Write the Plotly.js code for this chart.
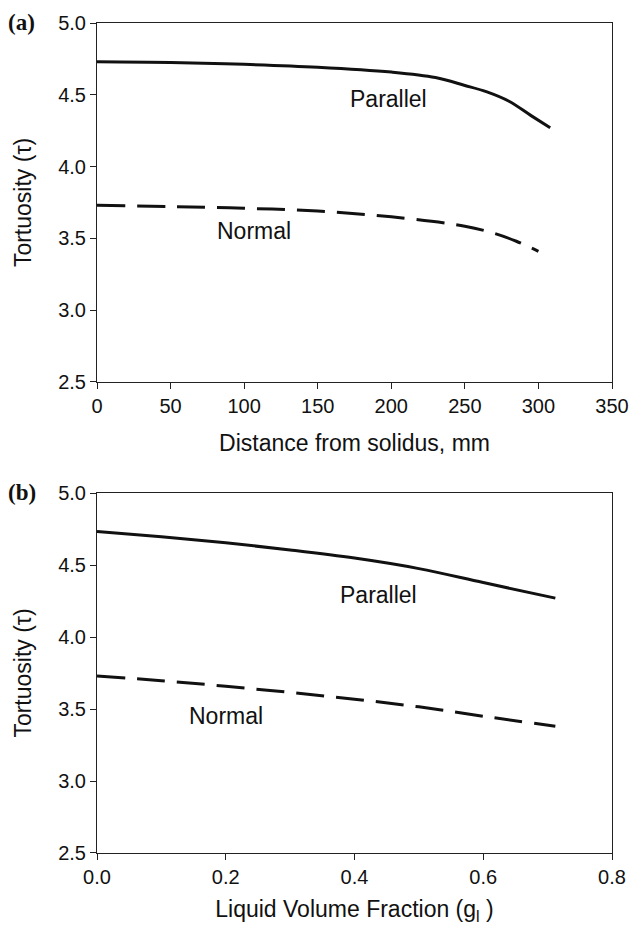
<!DOCTYPE html>
<html>
<head>
<meta charset="utf-8">
<script src="https://cdn.plot.ly/plotly-3.0.1.min.js"></script>
<style>html,body{margin:0;padding:0;background:#fff;}#chart{width:630px;height:925px;}</style>
</head>
<body>
<div id="chart"></div>
<script>
// Panel (a): tortuosity vs distance from solidus (mm)
var distParallel = [0, 50, 100, 150, 200, 230, 250, 265, 280, 295, 308];
var tauParallelA = [4.73, 4.725, 4.712, 4.692, 4.658, 4.62, 4.565, 4.52, 4.455, 4.355, 4.27];
var distNormal = [0, 50, 100, 150, 200, 250, 270, 285, 300];
var tauNormalA = [3.73, 3.722, 3.71, 3.69, 3.65, 3.585, 3.535, 3.48, 3.41];

// Panel (b): tortuosity vs liquid volume fraction
var glParallel = [0, 0.1, 0.2, 0.3, 0.4, 0.5, 0.6, 0.712];
var tauParallelB = [4.733, 4.697, 4.655, 4.605, 4.548, 4.475, 4.378, 4.27];
var glNormal = [0, 0.1, 0.2, 0.3, 0.4, 0.5, 0.6, 0.712];
var tauNormalB = [3.73, 3.697, 3.658, 3.615, 3.568, 3.515, 3.45, 3.38];

var xTicksA = [0, 50, 100, 150, 200, 250, 300, 350];
var xTicksB = [0.0, 0.2, 0.4, 0.6, 0.8];
var yTicks = [2.5, 3.0, 3.5, 4.0, 4.5, 5.0];

var FONT = 'Liberation Sans, Arial, Helvetica, sans-serif';

var traces = [
  {x: distParallel, y: tauParallelA, xaxis: 'x', yaxis: 'y', mode: 'lines',
   line: {color: '#111', width: 3, shape: 'spline', smoothing: 1}},
  {x: distNormal, y: tauNormalA, xaxis: 'x', yaxis: 'y', mode: 'lines',
   line: {color: '#111', width: 3, dash: '28px,12px', shape: 'spline', smoothing: 1}},
  {x: glParallel, y: tauParallelB, xaxis: 'x2', yaxis: 'y2', mode: 'lines',
   line: {color: '#111', width: 3, shape: 'spline', smoothing: 1}},
  {x: glNormal, y: tauNormalB, xaxis: 'x2', yaxis: 'y2', mode: 'lines',
   line: {color: '#111', width: 3, dash: '28px,12px', shape: 'spline', smoothing: 1}}
];

function yax(domain, anchor) {
  return {
    domain: domain, anchor: anchor, range: [2.5, 5.0],
    tickvals: yTicks, ticktext: yTicks.map(function(v){return v.toFixed(1);}),
    ticks: 'outside', ticklen: 6, tickcolor: '#222', tickwidth: 1,
    showline: true, linecolor: '#222', linewidth: 1, mirror: true,
    showgrid: false, zeroline: false,
    tickfont: {family: FONT, size: 20, color: '#111'},
    title: {text: 'Tortuosity (τ)', font: {family: FONT, size: 23, color: '#111'}, standoff: 20},
    automargin: false
  };
}
function xax(range, vals, text, title, anchor) {
  return {
    anchor: anchor, range: range, tickvals: vals, ticktext: text,
    ticks: 'outside', ticklen: 6, tickcolor: '#222', tickwidth: 1,
    showline: true, linecolor: '#222', linewidth: 1, mirror: true,
    showgrid: false, zeroline: false,
    tickfont: {family: FONT, size: 20, color: '#111'},
    title: {text: title, font: {family: FONT, size: 23, color: '#111'}, standoff: 18},
    automargin: false
  };
}

var plotH = 925 - 23 - 72, plotW = 630 - 97 - 18;
function px2paperX(px) { return (px - 97) / plotW; }
function px2paperY(py) { return (925 - 72 - py) / plotH; }

var layout = {
  width: 630, height: 925,
  margin: {l: 97, r: 18, t: 23, b: 72},
  paper_bgcolor: '#fff', plot_bgcolor: '#fff',
  showlegend: false,
  xaxis: xax([0, 350], xTicksA, xTicksA.map(String), 'Distance from solidus, mm', 'y'),
  yaxis: yax([0.5675, 1], 'x'),
  xaxis2: xax([0, 0.8], xTicksB, xTicksB.map(function(v){return v.toFixed(1);}),
              'Liquid Volume Fraction (g<sub>l</sub> )', 'y2'),
  yaxis2: yax([0, 0.4337], 'x2'),
  annotations: [
    {x: 198, y: 4.47, xref: 'x', yref: 'y', text: 'Parallel', showarrow: false,
     font: {family: FONT, size: 23, color: '#111'}},
    {x: 107, y: 3.55, xref: 'x', yref: 'y', text: 'Normal', showarrow: false,
     font: {family: FONT, size: 23, color: '#111'}},
    {x: 0.438, y: 4.29, xref: 'x2', yref: 'y2', text: 'Parallel', showarrow: false,
     font: {family: FONT, size: 23, color: '#111'}},
    {x: 0.201, y: 3.45, xref: 'x2', yref: 'y2', text: 'Normal', showarrow: false,
     font: {family: FONT, size: 23, color: '#111'}},
    {x: px2paperX(6), y: px2paperY(22), xref: 'paper', yref: 'paper', text: '<b>(a)</b>',
     showarrow: false, xanchor: 'left', yanchor: 'middle',
     font: {family: 'Liberation Serif, Times New Roman, serif', size: 23, color: '#111'}},
    {x: px2paperX(6), y: px2paperY(492), xref: 'paper', yref: 'paper', text: '<b>(b)</b>',
     showarrow: false, xanchor: 'left', yanchor: 'middle',
     font: {family: 'Liberation Serif, Times New Roman, serif', size: 23, color: '#111'}}
  ]
};

Plotly.newPlot('chart', traces, layout, {displayModeBar: false, staticPlot: true});
</script>
</body>
</html>
